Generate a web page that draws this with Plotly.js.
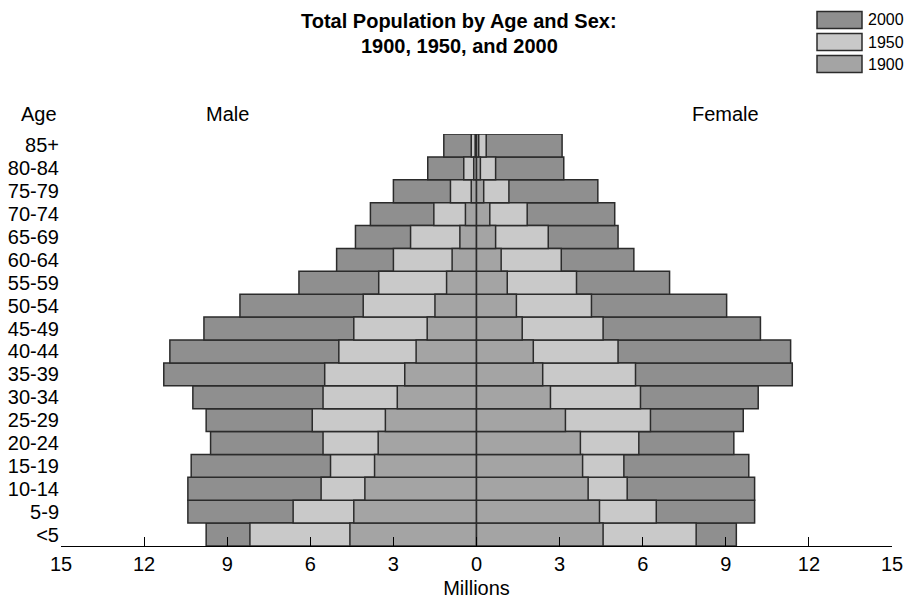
<!DOCTYPE html>
<html>
<head>
<meta charset="utf-8">
<script src="https://cdn.plot.ly/plotly-3.0.1.min.js"></script>
<style>html,body{margin:0;padding:0;background:#fff;}#chart{width:910px;height:601px;}</style>
</head>
<body>
<div id="chart"></div>
<script>
// ---- data (millions) ----
const ageGroups = ['<5','5-9','10-14','15-19','20-24','25-29','30-34','35-39','40-44','45-49','50-54','55-59','60-64','65-69','70-74','75-79','80-84','85+'];
const male2000   = [9.76,10.42,10.42,10.30,9.60,9.76,10.24,11.29,11.07,9.84,8.54,6.41,5.05,4.37,3.83,3.00,1.76,1.18];
const female2000 = [9.38,10.04,10.04,9.83,9.29,9.63,10.17,11.40,11.34,10.25,9.03,6.97,5.68,5.11,4.99,4.38,3.15,3.09];
const male1950   = [8.18,6.62,5.61,5.27,5.54,5.93,5.54,5.48,4.97,4.43,4.09,3.53,3.00,2.38,1.54,0.94,0.46,0.19];
const female1950 = [7.93,6.49,5.44,5.32,5.86,6.28,5.92,5.74,5.11,4.57,4.15,3.61,3.06,2.59,1.83,1.17,0.69,0.35];
const male1900   = [4.57,4.43,4.03,3.68,3.55,3.29,2.86,2.59,2.18,1.78,1.50,1.08,0.88,0.60,0.40,0.19,0.10,0.05];
const female1900 = [4.57,4.44,4.03,3.83,3.75,3.21,2.67,2.39,2.05,1.65,1.44,1.11,0.89,0.69,0.48,0.26,0.14,0.08];
const years = ['2000','1950','1900'];
const tickVals = [-15,-12,-9,-6,-3,0,3,6,9,12,15];
const tickText = ['15','12','9','6','3','0','3','6','9','12','15'];
const titleLines = ['Total Population by Age and Sex:','1900, 1950, and 2000'];

const colors = {'2000':'#8f8f8f','1950':'#c9c9c9','1900':'#a4a4a4'};
const edge = '#2b2b2b';
const FONT = 'Liberation Sans, Arial, sans-serif';

function barTrace(vals, year, male){
  return {
    type:'bar', orientation:'h', y: ageGroups,
    x: vals.map(v => male ? -v : v),
    name: year, showlegend:false, hoverinfo:'skip',
    marker:{color:colors[year], line:{color:edge, width:1.5}}
  };
}
const traces = [
  barTrace(male2000,'2000',true), barTrace(female2000,'2000',false),
  barTrace(male1950,'1950',true), barTrace(female1950,'1950',false),
  barTrace(male1900,'1900',true), barTrace(female1900,'1900',false)
];

// plot area pixel geometry
const L = 61, R = 18, T = 134, B = 55, W = 910 - L - R, H = 601 - T - B;
const px = x => (x - L) / W;
const py = y => (601 - B - y) / H;

const shapes = [], annotations = [];
// custom legend
years.forEach((yr, i) => {
  const cy = 20 + i * 22;
  shapes.push({type:'rect', xref:'paper', yref:'paper',
    x0:px(817), x1:px(862), y0:py(cy - 8.5), y1:py(cy + 8.5),
    fillcolor:colors[yr], line:{color:edge, width:1.5}});
  annotations.push({xref:'paper', yref:'paper', x:px(866), y:py(cy),
    xanchor:'left', yanchor:'middle', showarrow:false, text:yr,
    font:{family:FONT, size:16, color:'#000'}});
});
titleLines.forEach((t, i) => {
  annotations.push({xref:'paper', yref:'paper', x:px(459), y:py(21 + i * 25),
    xanchor:'center', yanchor:'middle', showarrow:false, text:'<b>' + t + '</b>',
    font:{family:FONT, size:20, color:'#000'}});
});
annotations.push(
  {xref:'paper', yref:'paper', x:px(38.5), y:py(114), xanchor:'center', yanchor:'middle', showarrow:false, text:'Age', font:{family:FONT, size:20, color:'#000'}},
  {xref:'paper', yref:'paper', x:px(227), y:py(114), xanchor:'center', yanchor:'middle', showarrow:false, text:'Male', font:{family:FONT, size:20, color:'#000'}},
  {xref:'paper', yref:'paper', x:px(725), y:py(114), xanchor:'center', yanchor:'middle', showarrow:false, text:'Female', font:{family:FONT, size:20, color:'#000'}}
);

const layout = {
  width:910, height:601,
  margin:{l:L, r:R, t:T, b:B, pad:0},
  paper_bgcolor:'#fff', plot_bgcolor:'#fff',
  barmode:'overlay', bargap:0,
  font:{family:FONT, size:20, color:'#000'},
  xaxis:{range:[-15,15], tickmode:'array', tickvals:tickVals, ticktext:tickText,
    showgrid:false, zeroline:false, showline:true, linecolor:'#000', linewidth:1,
    ticks:'inside', ticklen:9, tickcolor:'#000', tickwidth:1,
    tickfont:{family:FONT, size:20, color:'#000'}, ticklabelstandoff:0,
    title:{text:'Millions', font:{family:FONT, size:20, color:'#000'}, standoff:6},
    fixedrange:true},
  yaxis:{type:'category', categoryorder:'array', categoryarray:ageGroups, range:[-0.5,17.5],
    tickmode:'array', tickvals:ageGroups, ticktext:ageGroups,
    showgrid:false, zeroline:false, showline:false, ticks:'',
    tickfont:{family:FONT, size:20, color:'#000'}, ticklabelstandoff:1, fixedrange:true},
  shapes:shapes, annotations:annotations, showlegend:false
};
Plotly.newPlot('chart', traces, layout, {displayModeBar:false, staticPlot:true});
</script>
</body>
</html>
